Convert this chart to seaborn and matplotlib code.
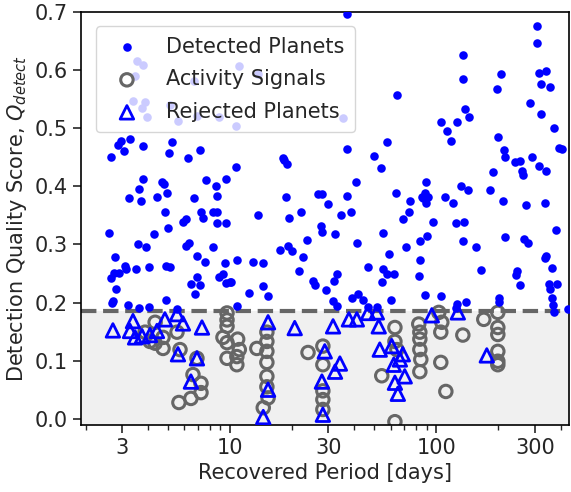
import numpy as np
import pandas as pd
import matplotlib
matplotlib.use("Agg")
import matplotlib.pyplot as plt
import matplotlib.ticker as mticker
import seaborn as sns

sns.set_style("ticks")
plt.rcParams['font.family'] = ['DejaVu Sans']

# detected planets (period in days, detection quality score)
det_period = [2.65, 2.87, 2.97, 3.07, 3.28, 3.79, 5.24, 5.07, 6.26, 7.16, 10.7, 10.7,
              3.79, 3.62, 3.24, 3.71, 4.69, 4.79, 4.43, 4.95, 6.70, 7.66, 8.56, 8.65, 9.57,
              2.59, 4.84, 5.01, 4.29, 5.92, 6.12, 7.24, 7.40, 8.28, 8.65, 8.65, 9.57,
              3.59, 3.92, 2.77, 6.12, 6.33, 8.28, 6.92, 7.57, 10.8,
              2.65, 2.74, 2.90, 3.10, 3.14, 3.51, 4.05, 4.90, 5.12, 9.46,
              6.92, 6.47, 7.16, 6.77, 8.85, 9.25, 9.57, 10.0,
              2.80, 2.71, 2.69, 3.21, 3.62, 4.05, 4.90, 5.54, 10.8,
              36.9, 64.4, 36.9, 57.5, 49.8, 18.1,
              306.6, 306.6, 134.4, 134.4, 205.3, 196.4, 313.6, 338.9, 320.6, 354.4,
              137.4, 143.7, 105.1, 112.4, 117.5, 125.6, 283.6, 320.6, 370.3, 198.6,
              212.3, 391.5, 404.9, 214.7, 290.0,
              53.8, 18.3, 18.9, 40.7, 63.7, 18.7, 26.7, 27.9, 29.9, 36.9, 74.4,
              13.7, 19.3, 22.1, 34.5, 38.5, 68.8, 73.6, 27.6, 27.9, 32.3, 23.6, 55.0,
              41.2, 71.1, 17.5, 19.1, 20.0, 22.6, 58.9, 12.9, 14.5, 21.6, 46.6, 55.0,
              57.5, 62.2, 54.4, 33.0, 31.9, 25.2, 25.8, 29.2, 14.5, 15.3, 12.4, 10.1,
              39.0, 41.7, 44.1, 60.2, 31.6, 33.0, 46.6, 51.5,
              239.9, 253.6, 313.6, 338.9, 259.4, 262.4, 187.8, 88.9, 131.5, 142.2, 181.5,
              87.9, 86.1, 91.0, 88.9, 85.1, 109.9, 120.2, 209.9, 271.2, 335.3,
              96.2, 124.2, 135.9, 378.6, 89.9, 83.2, 134.4, 155.3, 214.7, 265.2, 277.3,
              83.2, 82.2, 164.1, 338.9, 335.3, 362.3, 245.2, 242.5, 253.6, 350.6, 382.8,
              354.4, 87.9, 105.1, 362.3, 366.3, 370.3, 125.6, 124.2, 139.0, 200.9, 200.9, 435.0,
              3.55, 3.79, 3.47, 3.39, 3.75, 3.88, 3.96, 5.12, 5.60, 6.92, 6.70, 8.85,
              11.1, 13.7, 35.3]
det_q = [0.450, 0.471, 0.478, 0.460, 0.481, 0.469, 0.476, 0.457, 0.448, 0.462, 0.503, 0.433,
         0.412, 0.396, 0.379, 0.375, 0.408, 0.403, 0.382, 0.389, 0.379, 0.410, 0.400, 0.384, 0.412,
         0.320, 0.355, 0.329, 0.318, 0.339, 0.343, 0.356, 0.346, 0.355, 0.355, 0.336, 0.337,
         0.301, 0.296, 0.279, 0.298, 0.303, 0.296, 0.280, 0.270, 0.273,
         0.242, 0.251, 0.251, 0.263, 0.258, 0.258, 0.261, 0.263, 0.261, 0.268,
         0.244, 0.232, 0.230, 0.215, 0.244, 0.249, 0.234, 0.235,
         0.223, 0.202, 0.199, 0.196, 0.190, 0.192, 0.204, 0.189, 0.194,
         0.696, 0.557, 0.464, 0.476, 0.452, 0.448,
         0.676, 0.647, 0.625, 0.585, 0.593, 0.567, 0.595, 0.599, 0.576, 0.571,
         0.533, 0.519, 0.510, 0.495, 0.478, 0.510, 0.543, 0.524, 0.500, 0.484,
         0.462, 0.465, 0.464, 0.450, 0.450,
         0.431, 0.445, 0.438, 0.407, 0.389, 0.381, 0.386, 0.386, 0.370, 0.384, 0.375,
         0.351, 0.346, 0.356, 0.351, 0.356, 0.343, 0.356, 0.332, 0.322, 0.317, 0.308, 0.320,
         0.303, 0.296, 0.291, 0.298, 0.289, 0.279, 0.284, 0.270, 0.268, 0.254, 0.261, 0.258,
         0.249, 0.249, 0.235, 0.249, 0.237, 0.237, 0.230, 0.221, 0.228, 0.211, 0.216, 0.235,
         0.208, 0.215, 0.204, 0.204, 0.202, 0.194, 0.192, 0.192,
         0.441, 0.443, 0.434, 0.427, 0.426, 0.420, 0.424, 0.408, 0.401, 0.394, 0.393,
         0.388, 0.379, 0.381, 0.372, 0.381, 0.381, 0.372, 0.374, 0.367, 0.372,
         0.339, 0.336, 0.339, 0.325, 0.315, 0.306, 0.306, 0.296, 0.313, 0.310, 0.303,
         0.273, 0.246, 0.256, 0.280, 0.277, 0.260, 0.254, 0.247, 0.230, 0.232, 0.232,
         0.223, 0.213, 0.211, 0.208, 0.196, 0.183, 0.197, 0.190, 0.201, 0.208, 0.201, 0.189,
         0.616, 0.609, 0.590, 0.547, 0.535, 0.545, 0.519, 0.540, 0.512, 0.521, 0.581, 0.519,
         0.606, 0.593, 0.517]

# activity signals
act_period = [4.34, 3.88, 4.10, 4.34, 4.74, 4.74, 5.54, 5.73, 6.62, 7.24, 7.24, 6.47, 5.66, 6.92,
              9.68, 9.68, 9.68, 9.25, 9.68, 10.9, 11.1, 10.8, 9.68, 10.8, 13.5, 14.5,
              15.1, 15.1, 15.1, 15.1, 15.1, 15.1, 15.3, 23.9,
              28.2, 28.2, 28.2, 28.2, 28.2, 54.4, 63.0, 63.0, 64.4, 63.0,
              82.2, 83.2, 83.2, 83.2, 84.1, 83.2, 102.8, 106.3, 105.1, 105.1, 111.2,
              134.4, 169.8, 198.6, 198.6, 198.6, 198.6, 198.6, 198.6]
act_q = [0.166, 0.149, 0.133, 0.130, 0.140, 0.121, 0.149, 0.119, 0.076, 0.061, 0.045, 0.035, 0.028, 0.104,
         0.182, 0.170, 0.159, 0.140, 0.131, 0.137, 0.119, 0.107, 0.104, 0.093, 0.121, 0.019,
         0.149, 0.133, 0.116, 0.097, 0.073, 0.055, 0.036, 0.114,
         0.125, 0.093, 0.048, 0.033, 0.016, 0.074, 0.157, 0.133, 0.119, -0.005,
         0.163, 0.149, 0.137, 0.119, 0.102, 0.081, 0.183, 0.166, 0.149, 0.097, 0.047,
         0.144, 0.171, 0.183, 0.157, 0.145, 0.116, 0.099, 0.093]

# rejected planets
rej_period = [2.71, 3.39, 3.28, 3.47, 3.75, 4.10, 4.43, 4.84, 5.54, 5.92, 7.32, 5.60, 6.92, 6.47,
              15.3, 15.3, 14.5, 20.6, 28.8, 27.9, 28.2, 31.6, 34.1, 32.3, 37.7, 41.2,
              46.6, 51.5, 52.6, 53.2, 60.8, 68.8, 66.6, 62.2, 70.3, 63.0, 65.1,
              95.1, 127.1, 175.6]
rej_q = [0.152, 0.168, 0.151, 0.140, 0.142, 0.144, 0.151, 0.171, 0.180, 0.164, 0.157, 0.111, 0.104, 0.064,
         0.166, 0.050, 0.003, 0.156, 0.116, 0.064, 0.007, 0.159, 0.095, 0.081, 0.171, 0.171,
         0.182, 0.183, 0.159, 0.119, 0.125, 0.111, 0.102, 0.093, 0.073, 0.062, 0.043,
         0.178, 0.183, 0.109]

threshold = 0.185

fig = plt.figure(figsize=(5.71, 4.92), dpi=100)
ax = fig.add_axes([0.142, 0.137, 0.854, 0.839])

ax.axhspan(-0.02, threshold, color='#f0f0f0', zorder=0, lw=0)
ax.axhline(threshold, color='#666666', ls='--', lw=3, zorder=1)

sns.scatterplot(x=det_period, y=det_q, ax=ax, color='blue', s=38, linewidth=0,
                label='Detected Planets', zorder=3)
sns.scatterplot(x=act_period, y=act_q, ax=ax, marker='o', s=80, facecolors='none',
                edgecolor='#666666', linewidth=2.2, label='Activity Signals', zorder=2)
sns.scatterplot(x=rej_period, y=rej_q, ax=ax, marker='^', s=95, facecolors='none',
                edgecolor='blue', linewidth=2, label='Rejected Planets', zorder=4)

ax.set_xscale('log')
ax.set_xlim(1.9, 438)
ax.set_ylim(-0.01, 0.7)
ax.xaxis.set_major_locator(mticker.FixedLocator([3, 10, 30, 100, 300]))
ax.xaxis.set_major_formatter(mticker.FixedFormatter(['3', '10', '30', '100', '300']))
ax.xaxis.set_minor_locator(mticker.LogLocator(base=10, subs=np.arange(1, 10)))
ax.xaxis.set_minor_formatter(mticker.NullFormatter())
ax.set_yticks(np.arange(0, 0.71, 0.1))
ax.yaxis.set_major_formatter(mticker.FormatStrFormatter('%.1f'))
ax.tick_params(axis='both', which='major', labelsize=15, length=6, width=1.2)
ax.tick_params(axis='x', which='minor', length=3.5, width=1)
for sp in ax.spines.values():
    sp.set_linewidth(1.2)
    sp.set_color('black')

ax.set_xlabel('Recovered Period [days]', fontsize=15)
ax.set_ylabel('Detection Quality Score, $Q_{detect}$', fontsize=15)

ax.legend(loc='upper left', fontsize=15, framealpha=0.8, borderpad=0.5,
          handletextpad=0.9, labelspacing=0.6, borderaxespad=0.7)

fig.savefig('out.png', dpi=100)
